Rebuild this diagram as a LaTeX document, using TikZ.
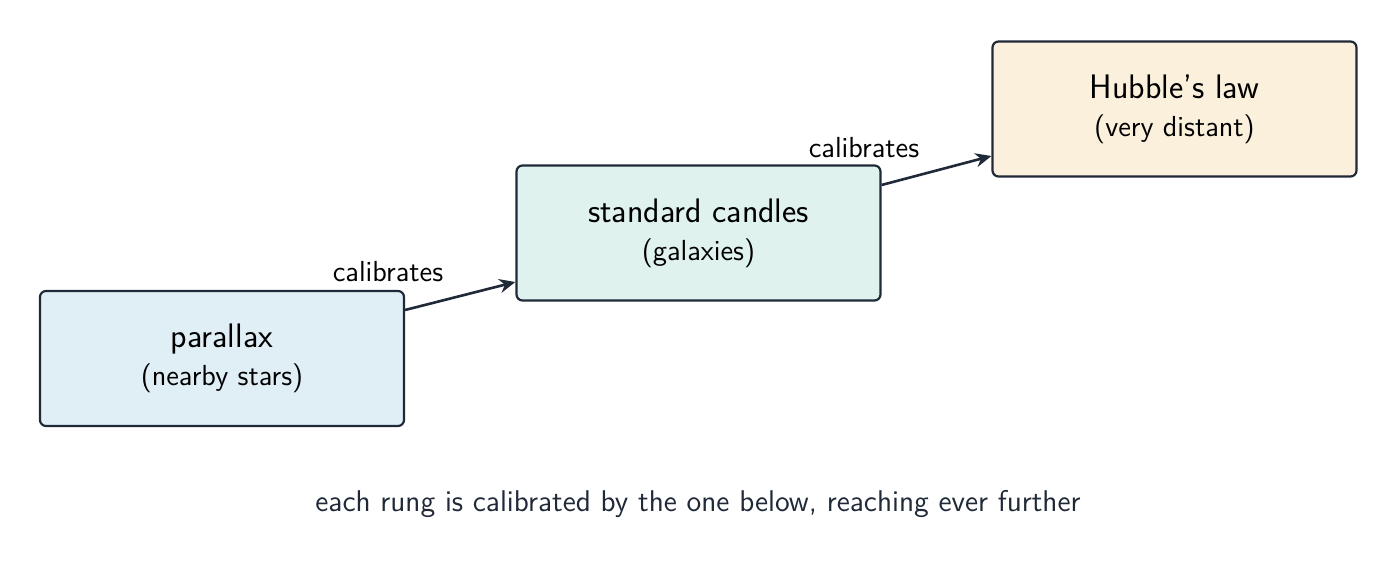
\documentclass[tikz,border=0pt]{standalone}
\usetikzlibrary{arrows.meta}
\definecolor{ink}{HTML}{1F2937}
\definecolor{fa}{HTML}{E0EEF5}
\definecolor{fb}{HTML}{E0F2EE}
\definecolor{fc}{HTML}{FAF0DC}
\begin{document}
\begin{tikzpicture}[x=0.5pt,y=-0.5pt,font=\sffamily,
  box/.style={draw=ink,line width=1.1pt,rounded corners=3pt,minimum width=182pt,minimum height=67.5pt,align=center,text=black,font=\sffamily\fontsize{17}{19}\selectfont},
  arr/.style={draw=ink,line width=1.3pt,-{Stealth[length=8pt,width=7pt]}},
  lab/.style={font=\sffamily\fontsize{14.5}{16}\selectfont,text=black}]
\useasboundingbox (0,0) rectangle (1398,572);
\node[box,fill=fa] (b1) at (222,358.5) {parallax\\{\fontsize{14.5}{16}\selectfont (nearby stars)}};
\node[box,fill=fb] (b2) at (698.5,233) {standard candles\\{\fontsize{14.5}{16}\selectfont (galaxies)}};
\node[box,fill=fc] (b3) at (1174.5,109) {Hubble's law\\{\fontsize{14.5}{16}\selectfont (very distant)}};
\draw[arr] ([yshift=24.25pt]b1.east) -- ([yshift=-24.5pt]b2.west);
\draw[arr] ([yshift=24pt]b2.east) -- ([yshift=-23.5pt]b3.west);
\node[lab] (l1) at (388,272) {calibrates};
\node[lab] (l2) at (864,148) {calibrates};
\node[lab,text=ink,font=\sffamily\fontsize{15}{17}\selectfont] (cap) at (698,504) {each rung is calibrated by the one below, reaching ever further};
\end{tikzpicture}
\end{document}
